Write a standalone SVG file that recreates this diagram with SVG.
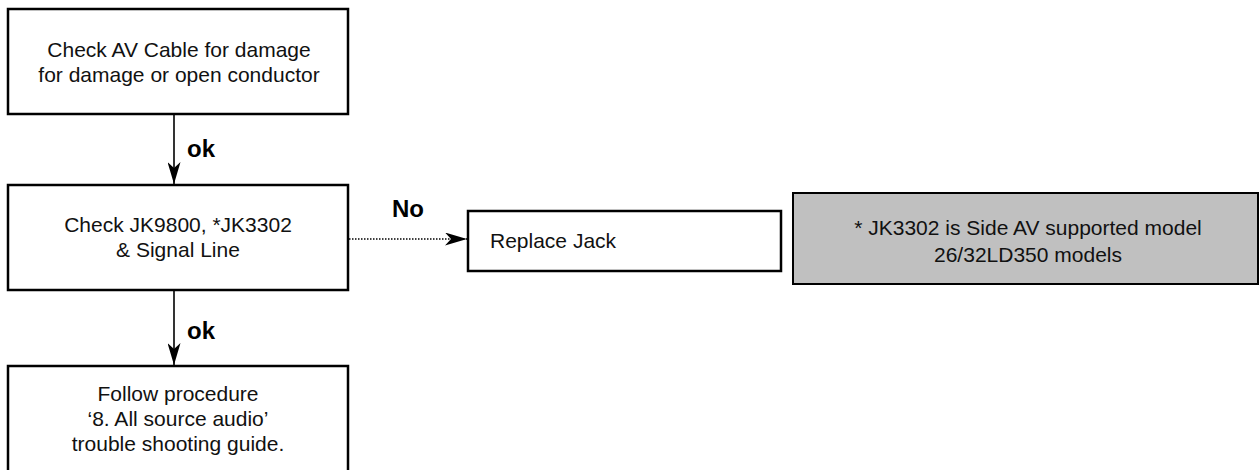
<svg xmlns="http://www.w3.org/2000/svg" width="1259" height="470" viewBox="0 0 1259 470">
<style>
.box{fill:#fff;stroke:#000;stroke-width:2.5}
.note{fill:#c0c0c0;stroke:#000;stroke-width:2}
.t{font-family:"Liberation Sans",Arial,sans-serif;font-size:21px;fill:#111;text-anchor:middle}
.lbl{font-family:"Liberation Sans",Arial,sans-serif;font-size:24px;font-weight:bold;fill:#000}
.ln{stroke:#000;stroke-width:1.6;fill:none}
.dot{stroke:#000;stroke-width:1.6;fill:none;stroke-dasharray:1.5 1.5}
</style>
<defs>
<marker id="ah" markerWidth="22" markerHeight="13" refX="22" refY="6.5" orient="auto" markerUnits="userSpaceOnUse">
<path d="M0,0 L22,6.5 L0,13 L6,6.5 Z" fill="#000"/>
</marker>
</defs>
<g id="n1">
<rect class="box" x="8" y="9" width="340" height="105"/>
<text class="t" x="179" y="57">Check AV Cable for damage</text>
<text class="t" x="179" y="82">for damage or open conductor</text>
</g>
<g id="n2">
<rect class="box" x="8" y="185" width="340" height="105"/>
<text class="t" x="178" y="232">Check JK9800, *JK3302</text>
<text class="t" x="178" y="257">&amp; Signal Line</text>
</g>
<g id="n3">
<rect class="box" x="8" y="366" width="340" height="120"/>
<text class="t" x="178" y="401">Follow procedure</text>
<text class="t" x="178" y="426">‘8. All source audio’</text>
<text class="t" x="178" y="451">trouble shooting guide.</text>
</g>
<g id="n4">
<rect class="box" x="468" y="211" width="313" height="60"/>
<text class="t" x="490" y="248" style="text-anchor:start">Replace Jack</text>
</g>
<g id="n5">
<rect class="note" x="793" y="193" width="465" height="91"/>
<text class="t" x="1028" y="235">* JK3302 is Side AV supported model</text>
<text class="t" x="1028" y="262">26/32LD350 models</text>
</g>
<g id="connectors">
<line class="ln" x1="174" y1="114" x2="174" y2="184" marker-end="url(#ah)"/>
<text class="lbl" x="187" y="157">ok</text>
<line class="ln" x1="174" y1="290" x2="174" y2="365" marker-end="url(#ah)"/>
<text class="lbl" x="187" y="339">ok</text>
<line class="dot" x1="349" y1="239" x2="467" y2="239" marker-end="url(#ah)"/>
<text class="lbl" x="392" y="217">No</text>
</g>
</svg>
